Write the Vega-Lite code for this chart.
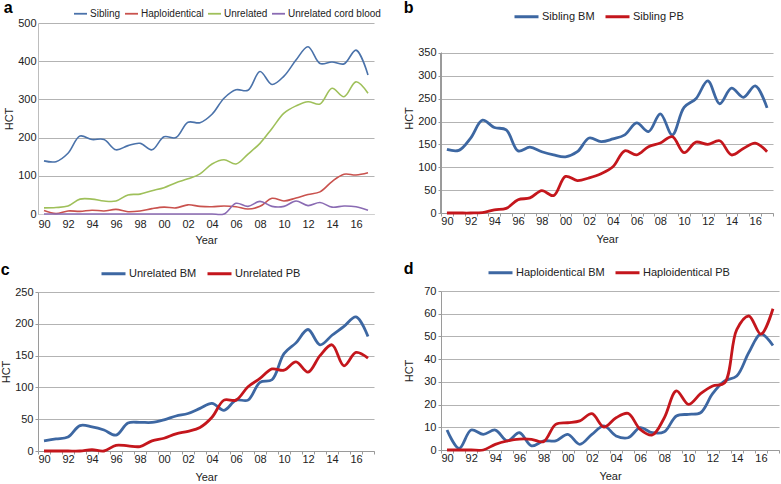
{
"$schema":"https://vega.github.io/schema/vega-lite/v6.json",
"padding":{"left":0,"top":0,"right":0,"bottom":0},
"spacing":22,
"resolve":{"scale":{"color":"independent"},"legend":{"color":"independent"}},
"config":{"view":{"stroke":null},"font":"Liberation Sans",
"axis":{"labelFontSize":11,"labelColor":"#222","titleFontSize":11,"titleFontWeight":"normal","titleColor":"#222","domainColor":"#9a9a9a","gridColor":"#b3b3b3","tickColor":"#9a9a9a","tickSize":3,"labelPadding":2},
"axisX":{"labelPadding":-1,"titlePadding":7},
"axisY":{"titlePadding":3},
"legend":{"symbolType":"stroke","labelFontSize":11,"labelColor":"#222","columnPadding":4,"symbolOffset":0,"labelOffset":2},
"title":{"fontSize":16,"fontWeight":"bold","color":"#000","anchor":"start","frame":"bounds"}},
"datasets":{
"a":[
{"yr":1990,"s":"Sibling","n":139},{"yr":1991,"s":"Sibling","n":137},{"yr":1992,"s":"Sibling","n":159},{"yr":1993,"s":"Sibling","n":204},{"yr":1994,"s":"Sibling","n":195},{"yr":1995,"s":"Sibling","n":195},{"yr":1996,"s":"Sibling","n":168},{"yr":1997,"s":"Sibling","n":179},{"yr":1998,"s":"Sibling","n":185},{"yr":1999,"s":"Sibling","n":168},{"yr":2000,"s":"Sibling","n":202},{"yr":2001,"s":"Sibling","n":200},{"yr":2002,"s":"Sibling","n":240},{"yr":2003,"s":"Sibling","n":239},{"yr":2004,"s":"Sibling","n":261},{"yr":2005,"s":"Sibling","n":303},{"yr":2006,"s":"Sibling","n":325},{"yr":2007,"s":"Sibling","n":324},{"yr":2008,"s":"Sibling","n":373},{"yr":2009,"s":"Sibling","n":339},{"yr":2010,"s":"Sibling","n":361},{"yr":2011,"s":"Sibling","n":403},{"yr":2012,"s":"Sibling","n":438},{"yr":2013,"s":"Sibling","n":394},{"yr":2014,"s":"Sibling","n":398},{"yr":2015,"s":"Sibling","n":393},{"yr":2016,"s":"Sibling","n":429},{"yr":2017,"s":"Sibling","n":364},
{"yr":1990,"s":"Haploidentical","n":9},{"yr":1991,"s":"Haploidentical","n":1},{"yr":1992,"s":"Haploidentical","n":8},{"yr":1993,"s":"Haploidentical","n":7},{"yr":1994,"s":"Haploidentical","n":10},{"yr":1995,"s":"Haploidentical","n":8},{"yr":1996,"s":"Haploidentical","n":12},{"yr":1997,"s":"Haploidentical","n":6},{"yr":1998,"s":"Haploidentical","n":8},{"yr":1999,"s":"Haploidentical","n":14},{"yr":2000,"s":"Haploidentical","n":18},{"yr":2001,"s":"Haploidentical","n":16},{"yr":2002,"s":"Haploidentical","n":24},{"yr":2003,"s":"Haploidentical","n":20},{"yr":2004,"s":"Haploidentical","n":19},{"yr":2005,"s":"Haploidentical","n":21},{"yr":2006,"s":"Haploidentical","n":19},{"yr":2007,"s":"Haploidentical","n":13},{"yr":2008,"s":"Haploidentical","n":20},{"yr":2009,"s":"Haploidentical","n":41},{"yr":2010,"s":"Haploidentical","n":34},{"yr":2011,"s":"Haploidentical","n":42},{"yr":2012,"s":"Haploidentical","n":51},{"yr":2013,"s":"Haploidentical","n":58},{"yr":2014,"s":"Haploidentical","n":85},{"yr":2015,"s":"Haploidentical","n":104},{"yr":2016,"s":"Haploidentical","n":102},{"yr":2017,"s":"Haploidentical","n":108},
{"yr":1990,"s":"Unrelated","n":16},{"yr":1991,"s":"Unrelated","n":17},{"yr":1992,"s":"Unrelated","n":21},{"yr":1993,"s":"Unrelated","n":39},{"yr":1994,"s":"Unrelated","n":39},{"yr":1995,"s":"Unrelated","n":34},{"yr":1996,"s":"Unrelated","n":34},{"yr":1997,"s":"Unrelated","n":50},{"yr":1998,"s":"Unrelated","n":52},{"yr":1999,"s":"Unrelated","n":61},{"yr":2000,"s":"Unrelated","n":69},{"yr":2001,"s":"Unrelated","n":82},{"yr":2002,"s":"Unrelated","n":92},{"yr":2003,"s":"Unrelated","n":105},{"yr":2004,"s":"Unrelated","n":131},{"yr":2005,"s":"Unrelated","n":142},{"yr":2006,"s":"Unrelated","n":131},{"yr":2007,"s":"Unrelated","n":157},{"yr":2008,"s":"Unrelated","n":185},{"yr":2009,"s":"Unrelated","n":224},{"yr":2010,"s":"Unrelated","n":264},{"yr":2011,"s":"Unrelated","n":283},{"yr":2012,"s":"Unrelated","n":294},{"yr":2013,"s":"Unrelated","n":288},{"yr":2014,"s":"Unrelated","n":329},{"yr":2015,"s":"Unrelated","n":307},{"yr":2016,"s":"Unrelated","n":346},{"yr":2017,"s":"Unrelated","n":316},
{"yr":1990,"s":"Unrelated cord blood","n":0},{"yr":1991,"s":"Unrelated cord blood","n":0},{"yr":1992,"s":"Unrelated cord blood","n":0},{"yr":1993,"s":"Unrelated cord blood","n":0},{"yr":1994,"s":"Unrelated cord blood","n":0},{"yr":1995,"s":"Unrelated cord blood","n":0},{"yr":1996,"s":"Unrelated cord blood","n":0},{"yr":1997,"s":"Unrelated cord blood","n":0},{"yr":1998,"s":"Unrelated cord blood","n":0},{"yr":1999,"s":"Unrelated cord blood","n":0},{"yr":2000,"s":"Unrelated cord blood","n":0},{"yr":2001,"s":"Unrelated cord blood","n":0},{"yr":2002,"s":"Unrelated cord blood","n":0},{"yr":2003,"s":"Unrelated cord blood","n":0},{"yr":2004,"s":"Unrelated cord blood","n":0},{"yr":2005,"s":"Unrelated cord blood","n":0},{"yr":2006,"s":"Unrelated cord blood","n":28},{"yr":2007,"s":"Unrelated cord blood","n":20},{"yr":2008,"s":"Unrelated cord blood","n":33},{"yr":2009,"s":"Unrelated cord blood","n":20},{"yr":2010,"s":"Unrelated cord blood","n":20},{"yr":2011,"s":"Unrelated cord blood","n":34},{"yr":2012,"s":"Unrelated cord blood","n":22},{"yr":2013,"s":"Unrelated cord blood","n":30},{"yr":2014,"s":"Unrelated cord blood","n":18},{"yr":2015,"s":"Unrelated cord blood","n":21},{"yr":2016,"s":"Unrelated cord blood","n":19},{"yr":2017,"s":"Unrelated cord blood","n":10}
],
"b":[
{"yr":1990,"s":"Sibling BM","n":139},{"yr":1991,"s":"Sibling BM","n":137},{"yr":1992,"s":"Sibling BM","n":164},{"yr":1993,"s":"Sibling BM","n":203},{"yr":1994,"s":"Sibling BM","n":187},{"yr":1995,"s":"Sibling BM","n":182},{"yr":1996,"s":"Sibling BM","n":136},{"yr":1997,"s":"Sibling BM","n":144},{"yr":1998,"s":"Sibling BM","n":134},{"yr":1999,"s":"Sibling BM","n":127},{"yr":2000,"s":"Sibling BM","n":123},{"yr":2001,"s":"Sibling BM","n":134},{"yr":2002,"s":"Sibling BM","n":164},{"yr":2003,"s":"Sibling BM","n":156},{"yr":2004,"s":"Sibling BM","n":162},{"yr":2005,"s":"Sibling BM","n":171},{"yr":2006,"s":"Sibling BM","n":197},{"yr":2007,"s":"Sibling BM","n":178},{"yr":2008,"s":"Sibling BM","n":217},{"yr":2009,"s":"Sibling BM","n":171},{"yr":2010,"s":"Sibling BM","n":231},{"yr":2011,"s":"Sibling BM","n":250},{"yr":2012,"s":"Sibling BM","n":289},{"yr":2013,"s":"Sibling BM","n":239},{"yr":2014,"s":"Sibling BM","n":273},{"yr":2015,"s":"Sibling BM","n":253},{"yr":2016,"s":"Sibling BM","n":278},{"yr":2017,"s":"Sibling BM","n":230},
{"yr":1990,"s":"Sibling PB","n":0},{"yr":1991,"s":"Sibling PB","n":0},{"yr":1992,"s":"Sibling PB","n":0},{"yr":1993,"s":"Sibling PB","n":1},{"yr":1994,"s":"Sibling PB","n":7},{"yr":1995,"s":"Sibling PB","n":10},{"yr":1996,"s":"Sibling PB","n":29},{"yr":1997,"s":"Sibling PB","n":33},{"yr":1998,"s":"Sibling PB","n":49},{"yr":1999,"s":"Sibling PB","n":38},{"yr":2000,"s":"Sibling PB","n":80},{"yr":2001,"s":"Sibling PB","n":71},{"yr":2002,"s":"Sibling PB","n":77},{"yr":2003,"s":"Sibling PB","n":86},{"yr":2004,"s":"Sibling PB","n":101},{"yr":2005,"s":"Sibling PB","n":136},{"yr":2006,"s":"Sibling PB","n":127},{"yr":2007,"s":"Sibling PB","n":145},{"yr":2008,"s":"Sibling PB","n":153},{"yr":2009,"s":"Sibling PB","n":167},{"yr":2010,"s":"Sibling PB","n":132},{"yr":2011,"s":"Sibling PB","n":155},{"yr":2012,"s":"Sibling PB","n":150},{"yr":2013,"s":"Sibling PB","n":158},{"yr":2014,"s":"Sibling PB","n":127},{"yr":2015,"s":"Sibling PB","n":141},{"yr":2016,"s":"Sibling PB","n":153},{"yr":2017,"s":"Sibling PB","n":134}
],
"c":[
{"yr":1990,"s":"Unrelated BM","n":16},{"yr":1991,"s":"Unrelated BM","n":19},{"yr":1992,"s":"Unrelated BM","n":22},{"yr":1993,"s":"Unrelated BM","n":40},{"yr":1994,"s":"Unrelated BM","n":38},{"yr":1995,"s":"Unrelated BM","n":33},{"yr":1996,"s":"Unrelated BM","n":25},{"yr":1997,"s":"Unrelated BM","n":44},{"yr":1998,"s":"Unrelated BM","n":45},{"yr":1999,"s":"Unrelated BM","n":45},{"yr":2000,"s":"Unrelated BM","n":49},{"yr":2001,"s":"Unrelated BM","n":55},{"yr":2002,"s":"Unrelated BM","n":59},{"yr":2003,"s":"Unrelated BM","n":67},{"yr":2004,"s":"Unrelated BM","n":75},{"yr":2005,"s":"Unrelated BM","n":64},{"yr":2006,"s":"Unrelated BM","n":80},{"yr":2007,"s":"Unrelated BM","n":80},{"yr":2008,"s":"Unrelated BM","n":108},{"yr":2009,"s":"Unrelated BM","n":112},{"yr":2010,"s":"Unrelated BM","n":153},{"yr":2011,"s":"Unrelated BM","n":170},{"yr":2012,"s":"Unrelated BM","n":191},{"yr":2013,"s":"Unrelated BM","n":167},{"yr":2014,"s":"Unrelated BM","n":182},{"yr":2015,"s":"Unrelated BM","n":196},{"yr":2016,"s":"Unrelated BM","n":211},{"yr":2017,"s":"Unrelated BM","n":180},
{"yr":1990,"s":"Unrelated PB","n":0},{"yr":1991,"s":"Unrelated PB","n":0},{"yr":1992,"s":"Unrelated PB","n":0},{"yr":1993,"s":"Unrelated PB","n":0},{"yr":1994,"s":"Unrelated PB","n":2},{"yr":1995,"s":"Unrelated PB","n":0},{"yr":1996,"s":"Unrelated PB","n":9},{"yr":1997,"s":"Unrelated PB","n":8},{"yr":1998,"s":"Unrelated PB","n":7},{"yr":1999,"s":"Unrelated PB","n":16},{"yr":2000,"s":"Unrelated PB","n":20},{"yr":2001,"s":"Unrelated PB","n":27},{"yr":2002,"s":"Unrelated PB","n":31},{"yr":2003,"s":"Unrelated PB","n":37},{"yr":2004,"s":"Unrelated PB","n":53},{"yr":2005,"s":"Unrelated PB","n":80},{"yr":2006,"s":"Unrelated PB","n":80},{"yr":2007,"s":"Unrelated PB","n":101},{"yr":2008,"s":"Unrelated PB","n":114},{"yr":2009,"s":"Unrelated PB","n":129},{"yr":2010,"s":"Unrelated PB","n":127},{"yr":2011,"s":"Unrelated PB","n":140},{"yr":2012,"s":"Unrelated PB","n":124},{"yr":2013,"s":"Unrelated PB","n":150},{"yr":2014,"s":"Unrelated PB","n":167},{"yr":2015,"s":"Unrelated PB","n":134},{"yr":2016,"s":"Unrelated PB","n":155},{"yr":2017,"s":"Unrelated PB","n":146}
],
"d":[
{"yr":1990,"s":"Haploidentical BM","n":8.8},{"yr":1991,"s":"Haploidentical BM","n":0.7},{"yr":1992,"s":"Haploidentical BM","n":8.8},{"yr":1993,"s":"Haploidentical BM","n":6.9},{"yr":1994,"s":"Haploidentical BM","n":8.8},{"yr":1995,"s":"Haploidentical BM","n":4},{"yr":1996,"s":"Haploidentical BM","n":7.6},{"yr":1997,"s":"Haploidentical BM","n":1.8},{"yr":1998,"s":"Haploidentical BM","n":4},{"yr":1999,"s":"Haploidentical BM","n":4},{"yr":2000,"s":"Haploidentical BM","n":6.9},{"yr":2001,"s":"Haploidentical BM","n":2.5},{"yr":2002,"s":"Haploidentical BM","n":6.9},{"yr":2003,"s":"Haploidentical BM","n":10.6},{"yr":2004,"s":"Haploidentical BM","n":6.2},{"yr":2005,"s":"Haploidentical BM","n":5.4},{"yr":2006,"s":"Haploidentical BM","n":9.8},{"yr":2007,"s":"Haploidentical BM","n":7.6},{"yr":2008,"s":"Haploidentical BM","n":8},{"yr":2009,"s":"Haploidentical BM","n":15},{"yr":2010,"s":"Haploidentical BM","n":15.7},{"yr":2011,"s":"Haploidentical BM","n":16.4},{"yr":2012,"s":"Haploidentical BM","n":24.8},{"yr":2013,"s":"Haploidentical BM","n":30.4},{"yr":2014,"s":"Haploidentical BM","n":32.6},{"yr":2015,"s":"Haploidentical BM","n":42.9},{"yr":2016,"s":"Haploidentical BM","n":51},{"yr":2017,"s":"Haploidentical BM","n":46},
{"yr":1990,"s":"Haploidentical PB","n":0},{"yr":1991,"s":"Haploidentical PB","n":0},{"yr":1992,"s":"Haploidentical PB","n":0},{"yr":1993,"s":"Haploidentical PB","n":0},{"yr":1994,"s":"Haploidentical PB","n":2.5},{"yr":1995,"s":"Haploidentical PB","n":4},{"yr":1996,"s":"Haploidentical PB","n":4.8},{"yr":1997,"s":"Haploidentical PB","n":4.7},{"yr":1998,"s":"Haploidentical PB","n":3.7},{"yr":1999,"s":"Haploidentical PB","n":11.3},{"yr":2000,"s":"Haploidentical PB","n":12},{"yr":2001,"s":"Haploidentical PB","n":12.8},{"yr":2002,"s":"Haploidentical PB","n":16},{"yr":2003,"s":"Haploidentical PB","n":10.1},{"yr":2004,"s":"Haploidentical PB","n":14.2},{"yr":2005,"s":"Haploidentical PB","n":16.1},{"yr":2006,"s":"Haploidentical PB","n":9.1},{"yr":2007,"s":"Haploidentical PB","n":6.6},{"yr":2008,"s":"Haploidentical PB","n":14.2},{"yr":2009,"s":"Haploidentical PB","n":26},{"yr":2010,"s":"Haploidentical PB","n":20.1},{"yr":2011,"s":"Haploidentical PB","n":24.8},{"yr":2012,"s":"Haploidentical PB","n":28.2},{"yr":2013,"s":"Haploidentical PB","n":29.6},{"yr":2014,"s":"Haploidentical PB","n":53},{"yr":2015,"s":"Haploidentical PB","n":59},{"yr":2016,"s":"Haploidentical PB","n":51},{"yr":2017,"s":"Haploidentical PB","n":62.2}
]
},
"hconcat":[
{"spacing":15,
"resolve":{"scale":{"color":"independent"},"legend":{"color":"independent"}},
"vconcat":[
{"width":336,"height":191,
"title":{"text":"a","dy":14},
"data":{"name":"a"},
"mark":{"type":"line","interpolate":"catmull-rom","strokeWidth":1.6},
"encoding":{
"x":{"field":"yr","type":"quantitative","scale":{"domain":[1989.5,2017.5],"nice":false,"zero":false},
 "axis":{"values":[1990,1992,1994,1996,1998,2000,2002,2004,2006,2008,2010,2012,2014,2016],"labelExpr":"substring(toString(datum.value),2,4)","title":"Year","grid":false,"ticks":false,"domainColor":"#cfcfcf","labelOverlap":false,"labelPadding":4,"titlePadding":5}},
"y":{"field":"n","type":"quantitative","scale":{"domain":[0,500],"nice":false},"axis":{"values":[0,100,200,300,400,500],"title":"HCT","ticks":false,"domainColor":"#bdbdbd"}},
"color":{"field":"s","type":"nominal","scale":{"domain":["Sibling","Haploidentical","Unrelated","Unrelated cord blood"],"range":["#4a72aa","#c9524e","#9fc05a","#8a6bb3"]},
 "legend":{"orient":"none","legendX":35,"legendY":-17,"direction":"horizontal","title":null,"symbolSize":169,"symbolStrokeWidth":1.8,"labelFontSize":10,"columnPadding":0}}
}},
{"width":336,"height":159,
"title":{"text":"c","dy":22},
"data":{"name":"c"},
"mark":{"type":"line","interpolate":"catmull-rom","strokeWidth":2.8},
"encoding":{
"x":{"field":"yr","type":"quantitative","scale":{"domain":[1989.5,2017.5],"nice":false,"zero":false},
 "axis":{"values":[1989.5,1990,1990.5,1991.5,1992,1992.5,1993.5,1994,1994.5,1995.5,1996,1996.5,1997.5,1998,1998.5,1999.5,2000,2000.5,2001.5,2002,2002.5,2003.5,2004,2004.5,2005.5,2006,2006.5,2007.5,2008,2008.5,2009.5,2010,2010.5,2011.5,2012,2012.5,2013.5,2014,2014.5,2015.5,2016,2016.5,2017.5],"labelExpr":"datum.value % 1 == 0 ? substring(toString(datum.value),2,4) : ''","tickOpacity":{"condition":{"test":"datum.value % 1 == 0","value":0},"value":1},"title":"Year","grid":false,"labelOverlap":false}},
"y":{"field":"n","type":"quantitative","scale":{"domain":[0,250],"nice":false},"axis":{"values":[0,50,100,150,200,250],"title":"HCT"}},
"color":{"field":"s","type":"nominal","scale":{"domain":["Unrelated BM","Unrelated PB"],"range":["#3d67a2","#c4161c"]},
 "legend":{"orient":"none","legendX":62,"legendY":-32,"direction":"horizontal","title":null,"symbolSize":576,"symbolStrokeWidth":3}}
}}
]},
{"spacing":15,
"resolve":{"scale":{"color":"independent"},"legend":{"color":"independent"}},
"vconcat":[
{"width":332,"height":190,
"title":{"text":"b","dy":17},
"data":{"name":"b"},
"layer":[
{"mark":{"type":"line","interpolate":"catmull-rom","strokeWidth":2.8},
"encoding":{
"x":{"field":"yr","type":"quantitative","scale":{"domain":[1989.5,2017.5],"nice":false,"zero":false},
 "axis":{"values":[1989.5,1990,1990.5,1991.5,1992,1992.5,1993.5,1994,1994.5,1995.5,1996,1996.5,1997.5,1998,1998.5,1999.5,2000,2000.5,2001.5,2002,2002.5,2003.5,2004,2004.5,2005.5,2006,2006.5,2007.5,2008,2008.5,2009.5,2010,2010.5,2011.5,2012,2012.5,2013.5,2014,2014.5,2015.5,2016,2016.5,2017.5],"labelExpr":"datum.value % 1 == 0 ? substring(toString(datum.value),2,4) : ''","tickOpacity":{"condition":{"test":"datum.value % 1 == 0","value":0},"value":1},"title":"Year","grid":false,"labelOverlap":false}},
"y":{"field":"n","type":"quantitative","scale":{"domain":[0,415.6],"nice":false},"axis":{"values":[0,50,100,150,200,250,300,350],"title":"HCT","domain":false}},
"color":{"field":"s","type":"nominal","scale":{"domain":["Sibling BM","Sibling PB"],"range":["#3d67a2","#c4161c"]},
 "legend":{"orient":"none","legendX":72,"legendY":-20,"direction":"horizontal","title":null,"symbolSize":576,"symbolStrokeWidth":3}}
}},
{"mark":{"type":"rule","color":"#9a9a9a","strokeWidth":1},
 "encoding":{
 "x":{"datum":1989.5,"type":"quantitative","scale":{"domain":[1989.5,2017.5],"nice":false,"zero":false},
 "axis":{"values":[1989.5,1990,1990.5,1991.5,1992,1992.5,1993.5,1994,1994.5,1995.5,1996,1996.5,1997.5,1998,1998.5,1999.5,2000,2000.5,2001.5,2002,2002.5,2003.5,2004,2004.5,2005.5,2006,2006.5,2007.5,2008,2008.5,2009.5,2010,2010.5,2011.5,2012,2012.5,2013.5,2014,2014.5,2015.5,2016,2016.5,2017.5],"labelExpr":"datum.value % 1 == 0 ? substring(toString(datum.value),2,4) : ''","tickOpacity":{"condition":{"test":"datum.value % 1 == 0","value":0},"value":1},"title":"Year","grid":false,"labelOverlap":false}},
 "y":{"datum":0,"type":"quantitative","scale":{"domain":[0,415.6],"nice":false},"axis":{"values":[0,50,100,150,200,250,300,350],"title":"HCT","domain":false}},
 "y2":{"datum":350}}}
]},
{"width":338,"height":159,
"title":{"text":"d","dy":22},
"data":{"name":"d"},
"mark":{"type":"line","interpolate":"catmull-rom","strokeWidth":2.8},
"encoding":{
"x":{"field":"yr","type":"quantitative","scale":{"domain":[1989.5,2017.5],"nice":false,"zero":false},
 "axis":{"values":[1989.5,1990,1990.5,1991.5,1992,1992.5,1993.5,1994,1994.5,1995.5,1996,1996.5,1997.5,1998,1998.5,1999.5,2000,2000.5,2001.5,2002,2002.5,2003.5,2004,2004.5,2005.5,2006,2006.5,2007.5,2008,2008.5,2009.5,2010,2010.5,2011.5,2012,2012.5,2013.5,2014,2014.5,2015.5,2016,2016.5,2017.5],"labelExpr":"datum.value % 1 == 0 ? substring(toString(datum.value),2,4) : ''","tickOpacity":{"condition":{"test":"datum.value % 1 == 0","value":0},"value":1},"title":"Year","grid":false,"labelOverlap":false}},
"y":{"field":"n","type":"quantitative","scale":{"domain":[0,70],"nice":false},"axis":{"values":[0,10,20,30,40,50,60,70],"title":"HCT","titlePadding":9}},
"color":{"field":"s","type":"nominal","scale":{"domain":["Haploidentical BM","Haploidentical PB"],"range":["#3d67a2","#c4161c"]},
 "legend":{"orient":"none","legendX":46,"legendY":-32,"direction":"horizontal","title":null,"symbolSize":576,"symbolStrokeWidth":3}}
}}
]}
]
}
